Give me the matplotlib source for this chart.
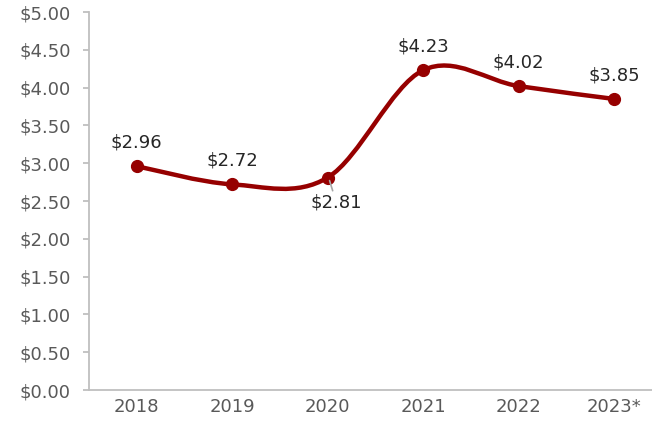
import matplotlib
matplotlib.use("Agg")
import matplotlib.pyplot as plt
from matplotlib.path import Path
from matplotlib.patches import PathPatch
import numpy as np

years = ["2018", "2019", "2020", "2021", "2022", "2023*"]
prices = [2.96, 2.72, 2.81, 4.23, 4.02, 3.85]
labels = ["$2.96", "$2.72", "$2.81", "$4.23", "$4.02", "$3.85"]
yticks = [0, 0.5, 1, 1.5, 2, 2.5, 3, 3.5, 4, 4.5, 5]

plt.rcParams['font.family'] = ['DejaVu Sans']
LINE = "#960000"
FS = 13

fig = plt.figure(figsize=(6.52, 4.23), dpi=100)
ax = fig.add_axes([89/652, 33/423, (661.8-89)/652, 378/423])

x = np.arange(len(years), dtype=float)
y = np.array(prices, dtype=float)

# Excel-style smoothed line (cubic Bezier, Catmull-Rom tangents)
verts = [(x[0], y[0])]
codes = [Path.MOVETO]
n = len(x)
for i in range(n - 1):
    p0 = np.array([x[max(i - 1, 0)], y[max(i - 1, 0)]])
    p1 = np.array([x[i], y[i]])
    p2 = np.array([x[i + 1], y[i + 1]])
    p3 = np.array([x[min(i + 2, n - 1)], y[min(i + 2, n - 1)]])
    c1 = p1 + (p2 - p0) / 6.0
    c2 = p2 - (p3 - p1) / 6.0
    verts += [tuple(c1), tuple(c2), tuple(p2)]
    codes += [Path.CURVE4] * 3
patch = PathPatch(Path(verts, codes), facecolor="none", edgecolor=LINE,
                  lw=3.2, capstyle="round", joinstyle="round", zorder=3)
ax.add_patch(patch)
ax.plot(x, y, "o", color=LINE, markersize=8.5, zorder=4)

# data labels
for i, (xi, yi, t) in enumerate(zip(x, y, labels)):
    if i == 2:
        ax.annotate(t, xy=(xi + 0.02, yi - 0.04), xytext=(xi + 0.09, yi - 0.33),
                    ha="center", va="center", fontsize=FS, color="#262626",
                    arrowprops=dict(arrowstyle="-", color="#a6a6a6", lw=1.2,
                                    shrinkA=8, shrinkB=0), zorder=5)
    else:
        ax.text(xi, yi + 0.31, t, ha="center", va="center", fontsize=FS,
                color="#262626", zorder=5)

ax.set_xlim(-0.5, n - 0.5)
ax.set_ylim(0, 5)
ax.set_yticks(yticks)
ax.set_yticklabels([f"${v:.2f}" for v in yticks])
ax.set_xticks(x)
ax.set_xticklabels(years)

for s in ["top", "right"]:
    ax.spines[s].set_visible(False)
for s in ["left", "bottom"]:
    ax.spines[s].set_color("#bfbfbf")
    ax.spines[s].set_linewidth(1.3)

ax.tick_params(axis="y", length=4.5, width=1.3, color="#bfbfbf",
               labelsize=FS, labelcolor="#595959", pad=8.5)
ax.tick_params(axis="x", length=0, labelsize=FS, labelcolor="#595959", pad=6)

fig.savefig("out.png", dpi=100)
